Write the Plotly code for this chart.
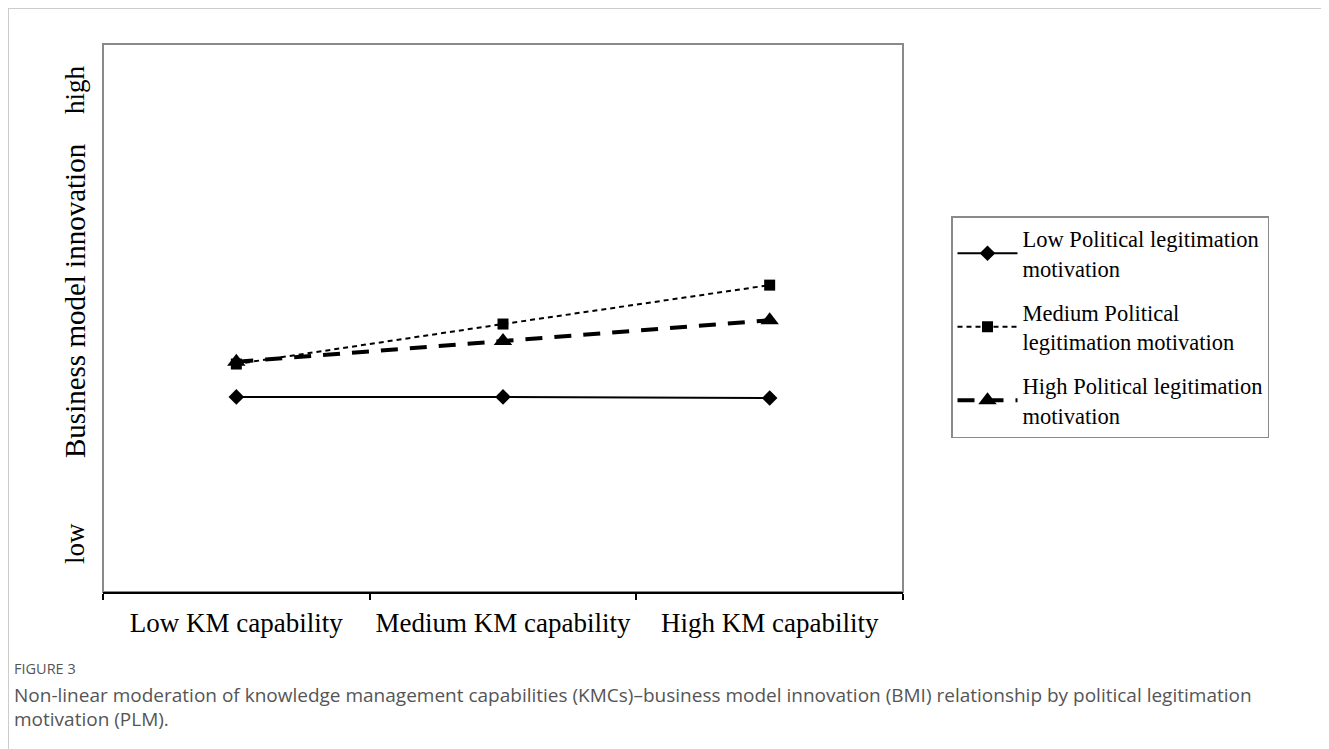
import plotly.graph_objects as go

categories = ["Low KM capability", "Medium KM capability", "High KM capability"]
low_plm = [3.56, 3.56, 3.54]
medium_plm = [4.16, 4.89, 5.60]
high_plm = [4.20, 4.58, 4.96]
series_names = [
    "Low Political legitimation<br>motivation",
    "Medium Political<br>legitimation motivation",
    "High Political legitimation<br>motivation",
]

# the page body adds an 8px margin; work in reference pixels and shift
OFF = 8
W, H = 1329 - OFF, 749 - OFF
L, R, T, B = 103 - OFF, 903 - OFF, 44 - OFF, 592 - OFF

def px_x(px):
    return (px - OFF - L) / (R - L)

def px_y(py):
    return (B - (py - OFF)) / (B - T)

serif = "Liberation Serif, Times New Roman, serif"
sans = "Open Sans, sans-serif"

fig = go.Figure()
fig.add_trace(go.Scatter(
    x=categories, y=low_plm, name=series_names[0], mode="lines+markers",
    line=dict(color="black", width=2),
    marker=dict(symbol="diamond", size=12, color="black"),
    legendgroup="a"))
fig.add_trace(go.Scatter(
    x=categories, y=medium_plm, name=series_names[1], mode="lines+markers",
    line=dict(color="black", width=2, dash="5px,4px"),
    marker=dict(symbol="square", size=11, color="black"),
    legendgroup="b"))
fig.add_trace(go.Scatter(
    x=categories, y=high_plm, name=series_names[2], mode="lines+markers",
    line=dict(color="black", width=4, dash="17px,12px"),
    marker=dict(symbol="triangle-up", size=16, color="black"),
    legendgroup="c"))

shapes = [
    dict(type="rect", xref="paper", yref="paper", x0=0, x1=1, y0=0, y1=1,
         line=dict(color="#8a8a8a", width=2), layer="below"),
    dict(type="line", xref="paper", yref="paper", x0=px_x(8), x1=px_x(1329),
         y0=px_y(8), y1=px_y(8), line=dict(color="#cccccc", width=2)),
    dict(type="line", xref="paper", yref="paper", x0=px_x(8), x1=px_x(8),
         y0=px_y(8), y1=px_y(749), line=dict(color="#cccccc", width=2)),
]

def rot(text, py, size):
    return dict(text=text, x=px_x(75), y=px_y(py), xref="paper", yref="paper",
                xanchor="center", yanchor="middle", textangle=-90, showarrow=False,
                font=dict(family=serif, size=size, color="black"))

def cap(text, py, size):
    return dict(text=text, x=px_x(12), y=px_y(py), xref="paper", yref="paper",
                xanchor="left", yanchor="middle", showarrow=False,
                font=dict(family=sans, size=size, color="#555555"))

annotations = [
    rot("high", 90, 27),
    rot("Business model innovation", 301, 29),
    rot("low", 544, 27),
    cap("FIGURE 3", 668, 14.5),
    cap("Non-linear moderation of knowledge management capabilities (KMCs)\u2013business model innovation (BMI) relationship by political legitimation", 695, 19),
    cap("motivation (PLM).", 719, 19),
]

fig.update_layout(
    width=W, height=H,
    margin=dict(l=L, r=W - R, t=T, b=H - B, pad=0),
    paper_bgcolor="white", plot_bgcolor="white",
    showlegend=True,
    legend=dict(
        x=px_x(951), y=px_y(216), xanchor="left", yanchor="top",
        bordercolor="#8a8a8a", borderwidth=1.5, bgcolor="white",
        font=dict(family=serif, size=22.5, color="black"),
        tracegroupgap=12, itemwidth=60,
    ),
    shapes=shapes,
    annotations=annotations,
    xaxis=dict(
        type="category", range=[-0.5, 2.5], tickson="boundaries",
        ticks="outside", ticklen=6, tickcolor="black", tickwidth=1.5,
        showline=True, linecolor="black", linewidth=1.5,
        showgrid=False, zeroline=False,
        tickfont=dict(family=serif, size=27, color="black"),
        ticklabelstandoff=6,
    ),
    yaxis=dict(
        range=[0, 10], showticklabels=False, ticks="", showgrid=False,
        zeroline=False, showline=False,
    ),
)

fig.write_html("out.html")
